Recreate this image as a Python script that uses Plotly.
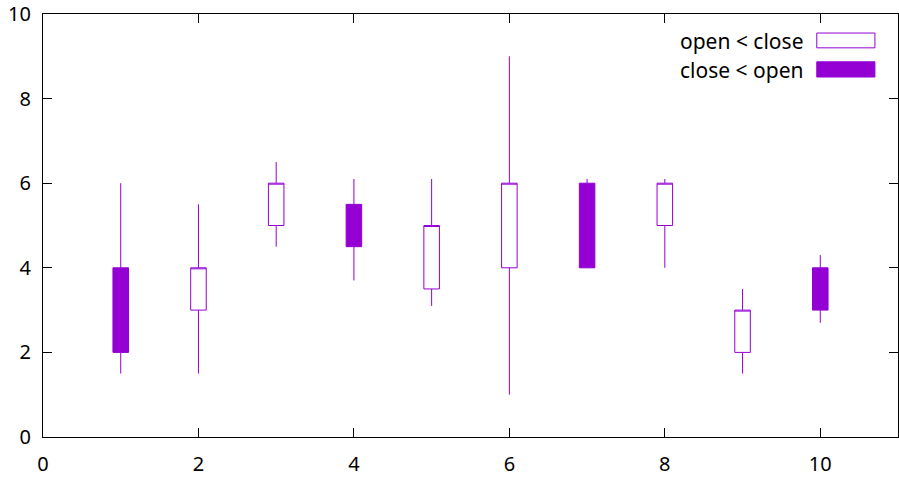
import plotly.graph_objects as go

x = [1, 2, 3, 4, 5, 6, 7, 8, 9, 10]
open_ = [4, 3, 5, 5.5, 3.5, 4, 6, 5, 2, 4]
close = [2, 4, 6, 4.5, 5, 6, 4, 6, 3, 3]
low = [1.5, 1.5, 4.5, 3.7, 3.1, 1, 4, 4, 1.5, 2.7]
high = [6, 5.5, 6.5, 6.1, 6.1, 9, 6.1, 6.1, 3.5, 4.3]

PURPLE = "#9400D3"
FONT = "Noto Sans"

fig = go.Figure()
fig.add_trace(go.Candlestick(
    x=x, open=open_, high=high, low=low, close=close,
    increasing=dict(line=dict(color=PURPLE, width=1), fillcolor="white"),
    decreasing=dict(line=dict(color=PURPLE, width=1), fillcolor=PURPLE),
    whiskerwidth=0, showlegend=False, hoverinfo="x+y",
))

# manual gnuplot-style key (text left, sample right)
key = [("open < close", "white", 0.936, 0.955, 0.920),
       ("close < open", PURPLE, 0.868, 0.887, 0.851)]
for label, fill, yc, y1, y0 in key:
    fig.add_annotation(text=label, xref="paper", yref="paper", x=0.891, y=yc,
                       xanchor="right", yanchor="middle", showarrow=False,
                       font=dict(family=FONT, size=21, color="black"))
    fig.add_shape(type="rect", xref="paper", yref="paper", x0=0.905, x1=0.973,
                  y0=y0, y1=y1, fillcolor=fill, line=dict(color=PURPLE, width=1))

axis_common = dict(showline=True, linecolor="black", linewidth=1, mirror="allticks",
                   ticks="inside", ticklen=9, tickcolor="black", showgrid=False,
                   zeroline=False, automargin=False,
                   tickfont=dict(family=FONT, size=20, color="black"))
fig.update_xaxes(range=[0, 11], tickvals=[0, 2, 4, 6, 8, 10], rangeslider=dict(visible=False),
                 ticklabelstandoff=9, **axis_common)
fig.update_yaxes(range=[0, 10], tickvals=[0, 2, 4, 6, 8, 10], ticklabelstandoff=7,
                 **axis_common)

fig.update_layout(width=899, height=478, margin=dict(l=43, r=1, t=14, b=41),
                  paper_bgcolor="white", plot_bgcolor="white",
                  boxgap=0.8, boxgroupgap=0, font=dict(family=FONT))
fig.write_html("out.html", config={"responsive": False, "displayModeBar": False},
               post_script="document.body.style.margin='0';document.body.style.overflow='hidden';")
